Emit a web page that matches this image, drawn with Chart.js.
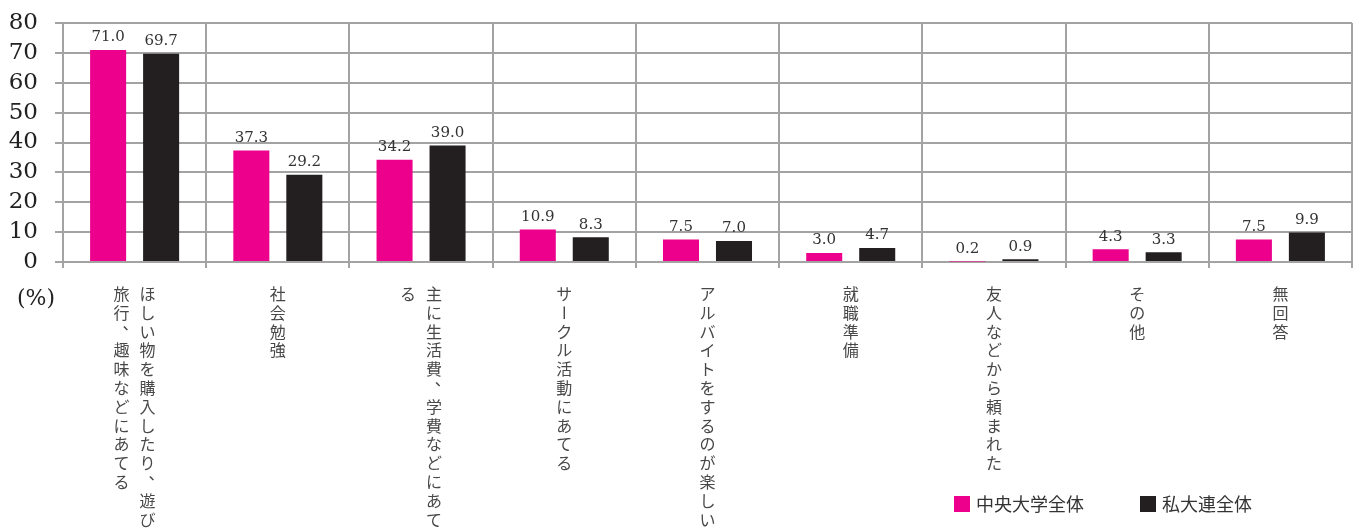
<!DOCTYPE html>
<html lang="ja">
<head>
<meta charset="utf-8">
<title>アルバイトの目的</title>
<script src="https://cdn.jsdelivr.net/npm/chart.js@4.4.1/dist/chart.umd.min.js"></script>
<style>
  html, body { margin: 0; padding: 0; background: #fff; }
  #wrap { width: 1357px; height: 528px; }
</style>
</head>
<body>
<div id="wrap"><canvas id="purposeChart"></canvas></div>
<script>
// Categories (drawn as vertical Japanese text under each group)
const categories = [
  'ほしい物を購入したり、遊び、旅行、趣味などにあてる',
  '社会勉強',
  '主に生活費、学費などにあてる',
  'サークル活動にあてる',
  'アルバイトをするのが楽しい',
  '就職準備',
  '友人などから頼まれた',
  'その他',
  '無回答'
];

const seriesNames = ['中央大学全体', '私大連全体'];
const chuoValues = [71.0, 37.3, 34.2, 10.9, 7.5, 3.0, 0.2, 4.3, 7.5];
const shidairenValues = [69.7, 29.2, 39.0, 8.3, 7.0, 4.7, 0.9, 3.3, 9.9];

const yMin = 0;
const yMax = 80;
const yStep = 10;
const unitLabel = '(%)';

const PINK = '#ec008c';
const BLACK = '#231f20';
const GRID = '#a3a3a3';

// Value above each bar
const valueLabels = {
  id: 'valueLabels',
  afterDatasetsDraw(chart) {
    const ctx = chart.ctx;
    ctx.save();
    ctx.font = '15px "DejaVu Serif"';
    ctx.fillStyle = '#333';
    ctx.textAlign = 'center';
    ctx.textBaseline = 'bottom';
    chart.data.datasets.forEach((ds, di) => {
      chart.getDatasetMeta(di).data.forEach((bar, i) => {
        ctx.fillText(ds.data[i].toFixed(1), bar.x, bar.y - 5);
      });
    });
    ctx.restore();
  }
};

// split a label into columns; a comma that would start a column hangs on the previous one
function toColumns(label, perColumn) {
  const chars = Array.from(label);
  const cols = [];
  let cur = [];
  chars.forEach(ch => {
    if (cur.length >= perColumn && !(ch === '、' || ch === '。')) {
      cols.push(cur);
      cur = [];
    }
    cur.push(ch);
  });
  if (cur.length) cols.push(cur);
  return cols;
}

// Vertical (tategaki) category labels, columns run right to left
const verticalLabels = {
  id: 'verticalLabels',
  afterDraw(chart, args, opts) {
    const ctx = chart.ctx;
    const xScale = chart.scales.x;
    const size = opts.size;
    const top = chart.chartArea.bottom + opts.offset;
    ctx.save();
    ctx.font = size + 'px "Noto Sans CJK JP"';
    ctx.fillStyle = '#484848';
    ctx.textAlign = 'center';
    ctx.textBaseline = 'middle';
    chart.data.labels.forEach((label, i) => {
      const cols = toColumns(label, opts.perColumn);
      const cx = xScale.getPixelForTick(i);
      cols.forEach((col, c) => {
        const colX = cx + ((cols.length - 1) / 2 - c) * opts.columnGap;
        col.forEach((ch, r) => {
          const y = top + r * opts.step;
          if (ch === 'ー') {
            ctx.save();
            ctx.translate(colX, y);
            ctx.rotate(Math.PI / 2);
            ctx.fillText(ch, 0, 0);
            ctx.restore();
          } else if (ch === '、' || ch === '。') {
            ctx.fillText(ch, colX + size * 0.55, y - size * 0.55);
          } else {
            ctx.fillText(ch, colX, y);
          }
        });
      });
    });
    ctx.restore();
  }
};

// Unit text and series key
const extras = {
  id: 'extras',
  afterDraw(chart, args, opts) {
    const ctx = chart.ctx;
    ctx.save();
    ctx.font = '22px "DejaVu Serif"';
    ctx.fillStyle = '#222';
    ctx.textAlign = 'center';
    ctx.textBaseline = 'middle';
    ctx.fillText(unitLabel, 36, chart.chartArea.bottom + 37);

    ctx.font = '18px "Noto Sans CJK JP"';
    ctx.textAlign = 'left';
    chart.data.datasets.forEach((ds, i) => {
      const x = opts.keyX[i];
      ctx.fillStyle = ds.backgroundColor;
      ctx.fillRect(x, opts.keyY, 16, 16);
      ctx.fillStyle = '#333';
      ctx.fillText(ds.label, x + 22, opts.keyY + 8);
    });
    ctx.restore();
  }
};

const ctx = document.getElementById('purposeChart');

new Chart(ctx, {
  type: 'bar',
  data: {
    labels: categories,
    datasets: [
      {
        label: seriesNames[0],
        data: chuoValues,
        backgroundColor: PINK,
        categoryPercentage: 0.74,
        barPercentage: 0.68
      },
      {
        label: seriesNames[1],
        data: shidairenValues,
        backgroundColor: BLACK,
        categoryPercentage: 0.74,
        barPercentage: 0.68
      }
    ]
  },
  options: {
    responsive: true,
    maintainAspectRatio: false,
    animation: false,
    layout: {
      padding: { left: 0, top: 23, right: 5, bottom: 0 }
    },
    scales: {
      x: {
        grid: {
          color: GRID,
          lineWidth: 2,
          offset: true,
          drawTicks: true,
          tickLength: 6
        },
        border: { color: GRID, width: 2 },
        ticks: { display: false },
        afterFit(axis) {
          axis.height = 266;
          axis.paddingLeft = 0;
          axis.paddingRight = 0;
        }
      },
      y: {
        min: yMin,
        max: yMax,
        grid: {
          color: GRID,
          lineWidth: 2,
          tickLength: 8
        },
        border: { color: GRID, width: 2 },
        ticks: {
          stepSize: yStep,
          autoSkip: false,
          padding: 17,
          color: '#222',
          font: { family: 'DejaVu Serif', size: 23 }
        },
        afterFit(axis) {
          axis.width = 63;
          axis.paddingTop = 0;
          axis.paddingBottom = 0;
        }
      }
    },
    plugins: {
      legend: { display: false },
      tooltip: { enabled: false },
      verticalLabels: { size: 16, perColumn: 13, columnGap: 26, step: 18.8, offset: 32 },
      extras: { keyX: [954, 1140], keyY: 496 }
    }
  },
  plugins: [valueLabels, verticalLabels, extras]
});
</script>
</body>
</html>
